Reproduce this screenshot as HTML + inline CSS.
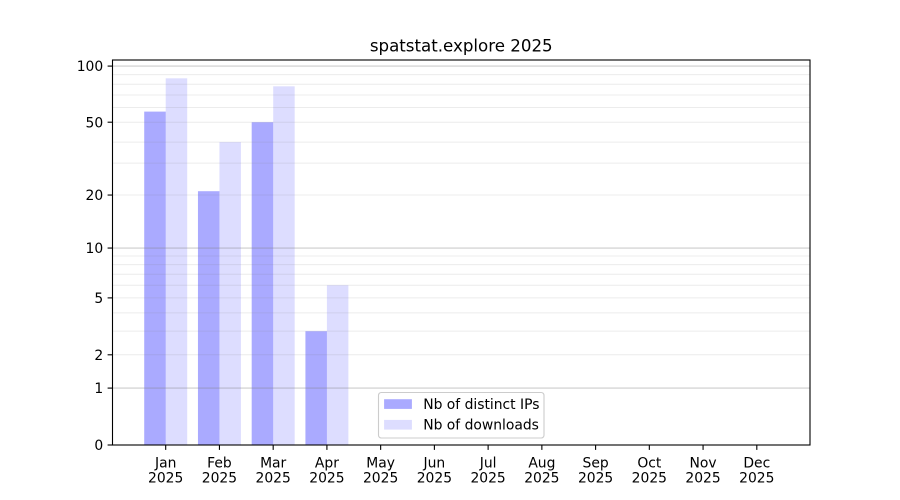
<!DOCTYPE html>
<html>
<head>
<meta charset="utf-8">
<style>
html,body{margin:0;padding:0;background:#fff;}
svg{display:block;}
text{font-family:"DejaVu Sans","Liberation Sans",sans-serif;fill:#000;}
</style>
</head>
<body>
<svg width="900" height="500" viewBox="0 0 900 500" xmlns="http://www.w3.org/2000/svg">
<rect x="0" y="0" width="900" height="500" fill="#fff"/>

<!-- bars: IPs -->
<g fill="#0000ff" fill-opacity="0.333">
<rect x="144.21" y="111.6" width="21.49" height="333.4"/>
<rect x="197.95" y="191.2" width="21.49" height="253.8"/>
<rect x="251.69" y="122.2" width="21.49" height="322.8"/>
<rect x="305.42" y="331.2" width="21.49" height="113.8"/>
</g>
<!-- bars: downloads -->
<g fill="#0000ff" fill-opacity="0.133">
<rect x="165.70" y="78.3" width="21.49" height="366.7"/>
<rect x="219.44" y="142.1" width="21.49" height="302.9"/>
<rect x="273.18" y="86.3" width="21.49" height="358.7"/>
<rect x="326.91" y="285.2" width="21.49" height="159.8"/>
</g>

<!-- minor grid -->
<g stroke="#808080" stroke-opacity="0.15" stroke-width="1">
<line x1="112.5" x2="810" y1="354.8" y2="354.8"/>
<line x1="112.5" x2="810" y1="331.18" y2="331.18"/>
<line x1="112.5" x2="810" y1="312.86" y2="312.86"/>
<line x1="112.5" x2="810" y1="297.89" y2="297.89"/>
<line x1="112.5" x2="810" y1="285.24" y2="285.24"/>
<line x1="112.5" x2="810" y1="274.27" y2="274.27"/>
<line x1="112.5" x2="810" y1="264.6" y2="264.6"/>
<line x1="112.5" x2="810" y1="255.95" y2="255.95"/>
<line x1="112.5" x2="810" y1="195.04" y2="195.04"/>
<line x1="112.5" x2="810" y1="163.07" y2="163.07"/>
<line x1="112.5" x2="810" y1="142.14" y2="142.14"/>
<line x1="112.5" x2="810" y1="122.2" y2="122.2"/>
<line x1="112.5" x2="810" y1="107.49" y2="107.49"/>
<line x1="112.5" x2="810" y1="95.02" y2="95.02"/>
<line x1="112.5" x2="810" y1="84.22" y2="84.22"/>
<line x1="112.5" x2="810" y1="74.65" y2="74.65"/>
</g>
<!-- major grid -->
<g stroke="#808080" stroke-opacity="0.4" stroke-width="1.1">
<line x1="112.5" x2="810" y1="388.09" y2="388.09"/>
<line x1="112.5" x2="810" y1="248.05" y2="248.05"/>
<line x1="112.5" x2="810" y1="66.09" y2="66.09"/>
</g>

<!-- axes frame -->
<rect x="112.5" y="60" width="697.5" height="385" fill="none" stroke="#000" stroke-width="1.1"/>

<!-- y ticks -->
<g stroke="#000" stroke-width="1.1">
<line x1="107.6" x2="112.5" y1="445" y2="445"/>
<line x1="107.6" x2="112.5" y1="388.09" y2="388.09"/>
<line x1="107.6" x2="112.5" y1="354.8" y2="354.8"/>
<line x1="107.6" x2="112.5" y1="297.89" y2="297.89"/>
<line x1="107.6" x2="112.5" y1="248.05" y2="248.05"/>
<line x1="107.6" x2="112.5" y1="195.04" y2="195.04"/>
<line x1="107.6" x2="112.5" y1="122.2" y2="122.2"/>
<line x1="107.6" x2="112.5" y1="66.09" y2="66.09"/>
</g>
<g font-size="13.89" text-anchor="end">
<text x="103.2" y="450.1">0</text>
<text x="103.2" y="393.2">1</text>
<text x="103.2" y="359.9">2</text>
<text x="103.2" y="303.0">5</text>
<text x="103.2" y="253.1">10</text>
<text x="103.2" y="200.1">20</text>
<text x="103.2" y="127.3">50</text>
<text x="103.2" y="71.2">100</text>
</g>

<!-- x ticks -->
<g stroke="#000" stroke-width="1.1">
<line x1="165.70" x2="165.70" y1="445" y2="449.9"/>
<line x1="219.44" x2="219.44" y1="445" y2="449.9"/>
<line x1="273.18" x2="273.18" y1="445" y2="449.9"/>
<line x1="326.91" x2="326.91" y1="445" y2="449.9"/>
<line x1="380.65" x2="380.65" y1="445" y2="449.9"/>
<line x1="434.39" x2="434.39" y1="445" y2="449.9"/>
<line x1="488.12" x2="488.12" y1="445" y2="449.9"/>
<line x1="541.86" x2="541.86" y1="445" y2="449.9"/>
<line x1="595.60" x2="595.60" y1="445" y2="449.9"/>
<line x1="649.33" x2="649.33" y1="445" y2="449.9"/>
<line x1="703.07" x2="703.07" y1="445" y2="449.9"/>
<line x1="756.81" x2="756.81" y1="445" y2="449.9"/>
</g>
<g font-size="13.89" text-anchor="middle">
<text x="165.70" y="467.3">Jan</text><text x="165.70" y="482.6">2025</text>
<text x="219.44" y="467.3">Feb</text><text x="219.44" y="482.6">2025</text>
<text x="273.18" y="467.3">Mar</text><text x="273.18" y="482.6">2025</text>
<text x="326.91" y="467.3">Apr</text><text x="326.91" y="482.6">2025</text>
<text x="380.65" y="467.3">May</text><text x="380.65" y="482.6">2025</text>
<text x="434.39" y="467.3">Jun</text><text x="434.39" y="482.6">2025</text>
<text x="488.12" y="467.3">Jul</text><text x="488.12" y="482.6">2025</text>
<text x="541.86" y="467.3">Aug</text><text x="541.86" y="482.6">2025</text>
<text x="595.60" y="467.3">Sep</text><text x="595.60" y="482.6">2025</text>
<text x="649.33" y="467.3">Oct</text><text x="649.33" y="482.6">2025</text>
<text x="703.07" y="467.3">Nov</text><text x="703.07" y="482.6">2025</text>
<text x="756.81" y="467.3">Dec</text><text x="756.81" y="482.6">2025</text>
</g>

<!-- title -->
<text x="461.25" y="51.7" font-size="16.67" text-anchor="middle">spatstat.explore 2025</text>

<!-- legend -->
<rect x="378.5" y="392.5" width="165.5" height="45.5" rx="2.8" ry="2.8" fill="#fff" fill-opacity="0.8" stroke="#cccccc" stroke-width="1.1"/>
<rect x="384.1" y="399.2" width="27.8" height="9.7" fill="#0000ff" fill-opacity="0.333"/>
<rect x="384.1" y="419.9" width="27.8" height="9.7" fill="#0000ff" fill-opacity="0.133"/>
<g font-size="13.89">
<text x="423.2" y="409">Nb of distinct IPs</text>
<text x="423.2" y="429.7">Nb of downloads</text>
</g>
</svg>
</body>
</html>
